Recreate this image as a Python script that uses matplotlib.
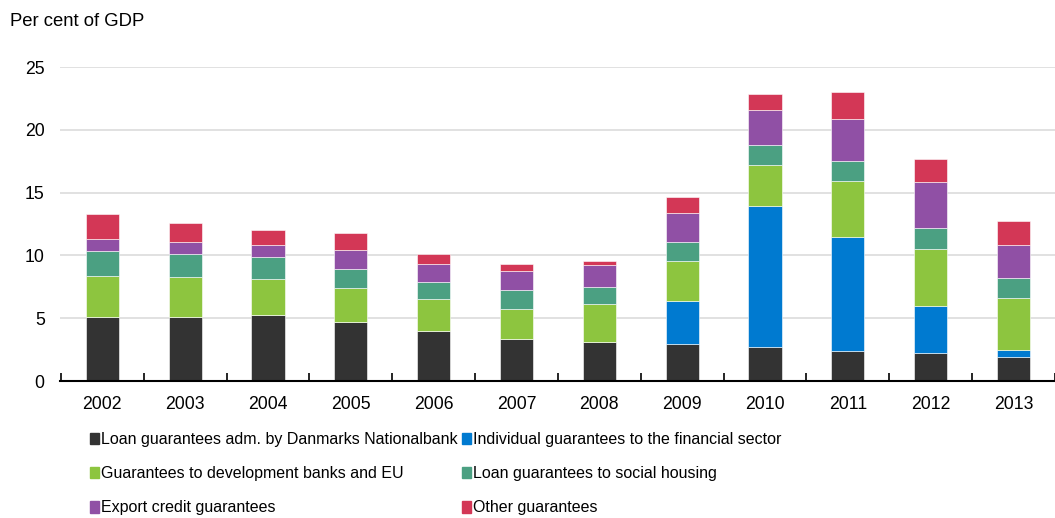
import numpy as np
import matplotlib.pyplot as plt
from matplotlib import font_manager
from matplotlib.patches import Patch

plt.rcParams['font.family'] = ['Liberation Sans', 'DejaVu Sans']

years = ['2002', '2003', '2004', '2005', '2006', '2007',
         '2008', '2009', '2010', '2011', '2012', '2013']

# per cent of GDP
nationalbank = [5.12, 5.12, 5.28, 4.70, 3.98, 3.37, 3.13, 2.92, 2.68, 2.39, 2.20, 1.93]
financial = [0, 0, 0, 0, 0, 0, 0, 3.47, 11.25, 9.10, 3.80, 0.51]
development = [3.24, 3.13, 2.86, 2.70, 2.52, 2.36, 3.00, 3.16, 3.27, 4.43, 4.51, 4.17]
housing = [1.96, 1.83, 1.70, 1.52, 1.38, 1.49, 1.33, 1.49, 1.56, 1.60, 1.67, 1.62]
export = [1.01, 0.96, 1.01, 1.53, 1.40, 1.56, 1.75, 2.34, 2.84, 3.31, 3.64, 2.57]
other = [1.97, 1.51, 1.14, 1.30, 0.80, 0.50, 0.34, 1.27, 1.27, 2.20, 1.88, 1.94]

series = [
    ('Loan guarantees adm. by Danmarks Nationalbank', nationalbank, '#333333'),
    ('Individual guarantees to the financial sector', financial, '#007AD0'),
    ('Guarantees to development banks and EU', development, '#8DC53F'),
    ('Loan guarantees to social housing', housing, '#4BA082'),
    ('Export credit guarantees', export, '#9050A5'),
    ('Other guarantees', other, '#D33756'),
]

# legend text in the original is a condensed face
names = {f.name for f in font_manager.fontManager.ttflist}
if 'Liberation Sans Narrow' in names:
    leg_font = {'family': 'Liberation Sans Narrow', 'size': 13.5}
else:
    leg_font = {'family': 'Liberation Sans', 'size': 11.5}

fig = plt.figure(figsize=(10.55, 5.18), dpi=100)
ax = fig.add_axes([60 / 1055, 1 - 381 / 518, 995 / 1055, 314 / 518])

x = np.arange(len(years))
bottom = np.zeros(len(years))
for name, vals, col in series:
    vals = np.array(vals)
    ax.bar(x, vals, width=0.4, bottom=bottom, color=col,
           edgecolor='white', linewidth=0.4, zorder=3)
    bottom += vals

ax.set_ylim(0, 25)
ax.set_xlim(-0.51, 11.39)
ax.set_yticks([0, 5, 10, 15, 20, 25])
ax.grid(axis='y', color='#dcdcdc', linewidth=1.2, zorder=0)
ax.set_xticks(x)
ax.set_xticklabels(years)
ax.set_xticks(np.arange(-0.5, 12, 1), minor=True)
ax.tick_params(axis='x', which='major', length=0, pad=11, labelsize=12.7)
ax.tick_params(axis='x', which='minor', length=6, width=1.2, direction='in', color='black')
ax.tick_params(axis='y', length=0, pad=11, labelsize=12.7)
for s in ['top', 'right', 'left']:
    ax.spines[s].set_visible(False)
ax.spines['bottom'].set_linewidth(1.5)
ax.spines['bottom'].set_zorder(4)

fig.text(10 / 1055, 1 - 22 / 518, 'Per cent of GDP', fontsize=13.3, va='center')

order = [0, 2, 4, 1, 3, 5]
handles = [Patch(color=series[i][2]) for i in order]
labels = [series[i][0] for i in order]
fig.legend(handles, labels, ncol=2, frameon=False, prop=leg_font,
           loc='upper left', bbox_to_anchor=(90 / 1055, 1 - 432 / 518),
           handlelength=0.55, handleheight=0.75, handletextpad=0.15,
           columnspacing=0.25, labelspacing=1.2, borderaxespad=0, borderpad=0)

fig.savefig('out.png', dpi=100)
